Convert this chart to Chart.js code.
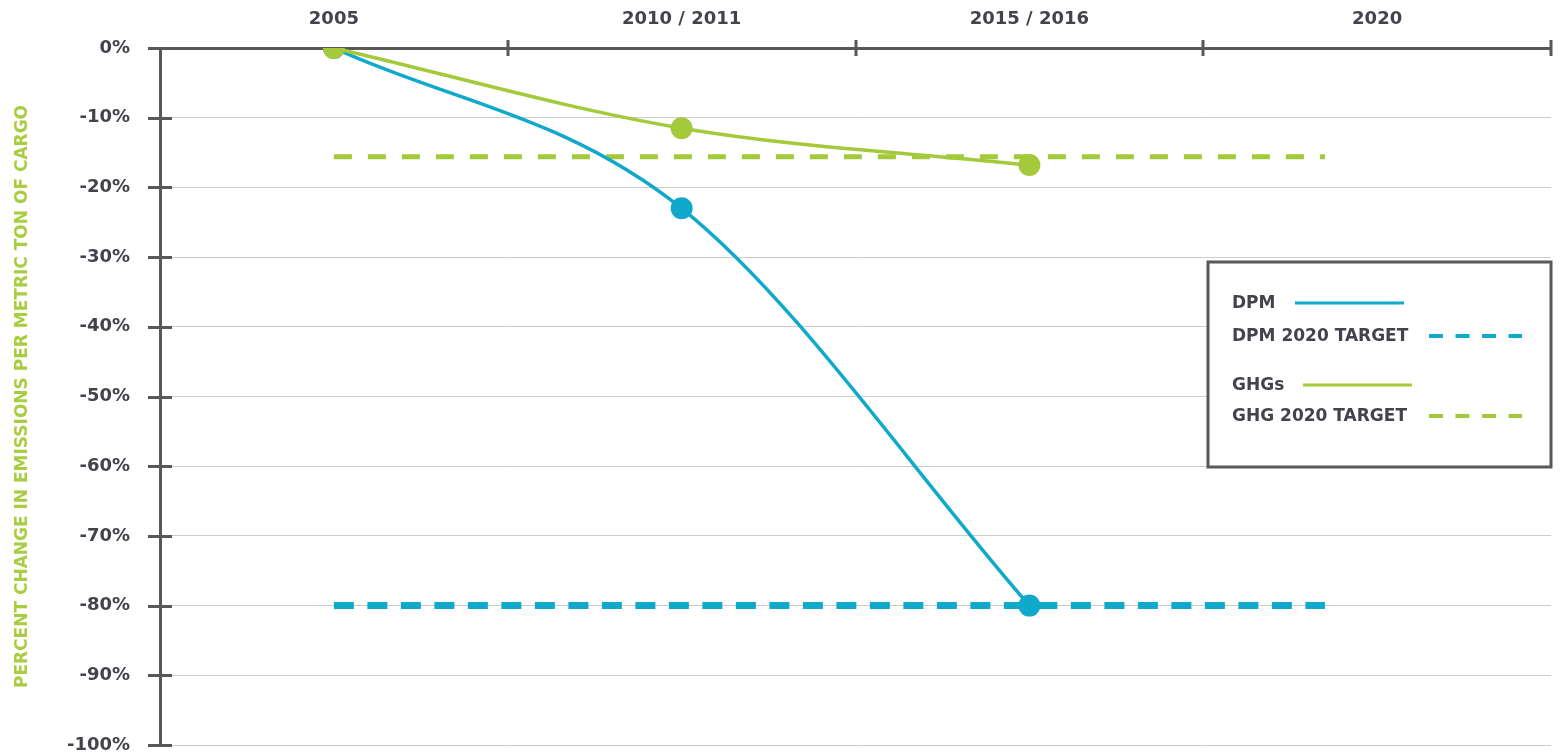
<!DOCTYPE html>
<html>
<head>
<meta charset="utf-8">
<script src="https://cdn.jsdelivr.net/npm/chart.js@4/dist/chart.umd.min.js"></script>
<style>
  html, body { margin: 0; padding: 0; background: #ffffff; }
  #wrap { width: 1565px; height: 756px; position: relative; }
  canvas { display: block; }
</style>
</head>
<body>
<div id="wrap"><canvas id="c" width="1565" height="756"></canvas></div>
<script>
// ---- data ----
const categories = ['2005', '2010 / 2011', '2015 / 2016', '2020'];
const dpmValues = [0, -23, -80];
const ghgValues = [0, -11.5, -16.8];
const dpmTarget = -80;
const ghgTarget = -15.6;
const targetSpan = [0, 2.85];          // category positions the target lines run between
const yTickValues = [0, -10, -20, -30, -40, -50, -60, -70, -80, -90, -100];
const yTickLabels = ['0%', '-10%', '-20%', '-30%', '-40%', '-50%', '-60%', '-70%', '-80%', '-90%', '-100%'];
const seriesNames = ['GHGs', 'DPM', 'DPM 2020 TARGET', 'GHG 2020 TARGET'];
const yTitle = 'PERCENT CHANGE IN EMISSIONS PER METRIC TON OF CARGO';

// ---- styles ----
const BLUE = '#10a9cc';
const GREEN = '#a4c93b';
const AXIS = '#58585b';
const TEXT = '#43434b';
const FONT = "'DejaVu Sans', sans-serif";

const toPts = vals => vals.map((v, i) => ({ x: i, y: v }));

const crossTicks = {
  id: 'crossTicks',
  afterDraw(chart) {
    const ctx = chart.ctx;
    const ys = chart.scales.y, xs = chart.scales.x;
    const a = chart.chartArea;
    ctx.save();
    ctx.strokeStyle = AXIS;
    ctx.lineWidth = 3;
    ctx.beginPath();
    yTickValues.forEach(v => {
      const py = Math.round(ys.getPixelForValue(v)) + 0.5;
      ctx.moveTo(a.left - 12, py);
      ctx.lineTo(a.left + 12, py);
    });
    for (let k = 1; k <= categories.length; k++) {
      const px = Math.round(xs.getPixelForValue(k - 0.5));
      ctx.moveTo(px, a.top - 8);
      ctx.lineTo(px, a.top + 8);
    }
    ctx.stroke();
    ctx.restore();
  }
};

const boxLegend = {
  id: 'boxLegend',
  afterDraw(chart) {
    const ctx = chart.ctx;
    const a = chart.chartArea;
    const ds = chart.data.datasets;
    const bx = 1208, by = 262, bw = a.right - bx, bh = 205;
    ctx.save();
    ctx.fillStyle = '#ffffff';
    ctx.fillRect(bx, by, bw, bh);
    ctx.strokeStyle = AXIS;
    ctx.lineWidth = 3;
    ctx.strokeRect(bx, by, bw, bh);
    ctx.font = "bold 17px " + FONT;
    ctx.textBaseline = 'middle';
    ctx.textAlign = 'left';
    const rows = [
      { d: ds[1], y: 303, x0: 1295, x1: 1404 },
      { d: ds[2], y: 336, x0: 1429, x1: 1522 },
      { d: ds[0], y: 385, x0: 1303, x1: 1412 },
      { d: ds[3], y: 416, x0: 1429, x1: 1522 }
    ];
    rows.forEach(r => {
      ctx.fillStyle = TEXT;
      ctx.fillText(r.d.label, 1232, r.y + 1);
      ctx.strokeStyle = r.d.borderColor;
      ctx.lineWidth = r.d.borderDash ? 4 : 3;
      ctx.setLineDash(r.d.borderDash ? [14, 12.5] : []);
      ctx.beginPath();
      ctx.moveTo(r.x0, r.y);
      ctx.lineTo(r.x1, r.y);
      ctx.stroke();
    });
    ctx.restore();
  }
};

new Chart(document.getElementById('c'), {
  type: 'line',
  data: {
    datasets: [
      { label: seriesNames[0], data: toPts(ghgValues), borderColor: GREEN, backgroundColor: GREEN,
        borderWidth: 3.5, pointRadius: 11, pointBackgroundColor: GREEN, pointBorderWidth: 0,
        cubicInterpolationMode: 'monotone' },
      { label: seriesNames[1], data: toPts(dpmValues), borderColor: BLUE, backgroundColor: BLUE,
        borderWidth: 3.5, pointRadius: 11, pointBackgroundColor: BLUE, pointBorderWidth: 0,
        cubicInterpolationMode: 'monotone' },
      { label: seriesNames[2], data: targetSpan.map(x => ({ x, y: dpmTarget })), borderColor: BLUE,
        borderWidth: 7, borderDash: [20, 13.5], pointRadius: 0, borderCapStyle: 'butt' },
      { label: seriesNames[3], data: targetSpan.map(x => ({ x, y: ghgTarget })), borderColor: GREEN,
        borderWidth: 5, borderDash: [18, 16], pointRadius: 0, borderCapStyle: 'butt' }
    ]
  },
  options: {
    responsive: false,
    animation: false,
    events: [],
    layout: { padding: { left: 0, right: 14, top: 0, bottom: 8 } },
    plugins: { legend: { display: false }, tooltip: { enabled: false } },
    scales: {
      x: {
        type: 'linear', display: false, min: -0.5, max: categories.length - 0.5, position: 'top'
      },
      xc: {
        type: 'category', labels: categories, position: 'top', offset: true,
        grid: { display: false, drawTicks: false },
        border: { display: true, color: AXIS, width: 3 },
        ticks: { color: TEXT, font: { family: FONT, weight: 'bold', size: 18 }, padding: 18,
                 maxRotation: 0, autoSkip: false },
        afterFit(s) { s.height = 48; }
      },
      y: {
        type: 'linear', min: -100, max: 0, position: 'left',
        afterBuildTicks(s) { s.ticks = yTickValues.map(v => ({ value: v })); },
        ticks: {
          color: TEXT, font: { family: FONT, weight: 'bold', size: 18, lineHeight: 0.8 }, padding: 0,
          callback: (v) => yTickLabels[yTickValues.indexOf(v)]
        },
        grid: { color: '#cccccc', lineWidth: 1, drawTicks: true, tickLength: 30, tickColor: 'rgba(0,0,0,0)' },
        border: { display: true, color: AXIS, width: 3 },
        title: {
          display: true, text: yTitle, color: '#a8cd40',
          font: { family: FONT, weight: 'bold', size: 17 }, padding: { top: 12, bottom: 0 }
        },
        afterFit(s) { s.width = 160; }
      }
    }
  },
  plugins: [crossTicks, boxLegend]
});
</script>
</body>
</html>
